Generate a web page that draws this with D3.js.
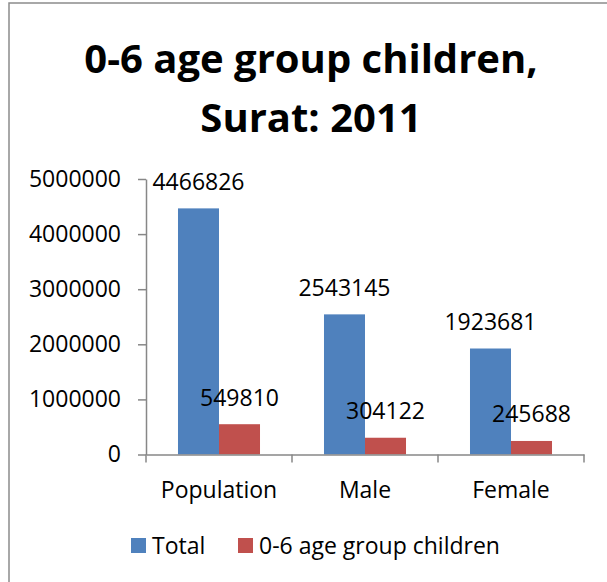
<!DOCTYPE html>
<html>
<head>
<meta charset="utf-8">
<script src="https://cdn.jsdelivr.net/npm/d3@7"></script>
<style>
  html, body { margin: 0; padding: 0; background: #fff; }
  svg { display: block; }
  text { font-family: "Open Sans", "Liberation Sans", sans-serif; fill: #000; }
</style>
</head>
<body>
<svg id="chart" width="607" height="582"></svg>
<script>
// data
var categories = ["Population", "Male", "Female"];
var seriesNames = ["Total", "0-6 age group children"];
var totalValues = [4466826, 2543145, 1923681];
var childValues = [549810, 304122, 245688];
var yTicks = [0, 1000000, 2000000, 3000000, 4000000, 5000000];
var titleLines = ["0-6 age group children,", "Surat: 2011"];

var colors = ["#4f81bd", "#c0504d"];
var axisColor = "#878787";

function makeChart() {
    var svg = d3.select("#chart");

    // chart frame (cropped on right and bottom in the original)
    svg.append("rect")
        .attr("x", 9).attr("y", 3)
        .attr("width", 700).attr("height", 700)
        .attr("fill", "none")
        .attr("stroke", "#8c8c8c").attr("stroke-width", 1.5);

    // title
    svg.append("text")
        .attr("text-anchor", "middle")
        .style("font-size", "40px").style("font-weight", "bold")
        .selectAll("tspan")
        .data(titleLines)
        .enter()
        .append("tspan")
        .attr("x", 311)
        .attr("y", (d, i) => 73 + i * 59)
        .text(d => d);

    var scY = d3.scaleLinear().domain([0, 5000000]).range([454.5, 179]);
    var scX = d3.scaleBand().domain(categories).range([146, 584]);
    var scS = d3.scaleBand().domain(seriesNames).range([0, scX.bandwidth()]).paddingOuter(0.78);

    var rows = categories.map((c, i) => ({
        cat: c,
        vals: [
            { s: seriesNames[0], v: totalValues[i], k: 0 },
            { s: seriesNames[1], v: childValues[i], k: 1 }
        ]
    }));

    // bars
    var groups = svg.selectAll("g.cat")
        .data(rows)
        .enter()
        .append("g")
        .attr("class", "cat")
        .attr("transform", d => "translate(" + scX(d.cat) + ",0)");

    groups.selectAll("rect")
        .data(d => d.vals)
        .enter()
        .append("rect")
        .attr("x", d => scS(d.s))
        .attr("width", scS.bandwidth())
        .attr("y", d => scY(d.v))
        .attr("height", d => scY(0) - scY(d.v))
        .attr("fill", d => colors[d.k]);

    // data labels
    groups.selectAll("text.lbl")
        .data(d => d.vals)
        .enter()
        .append("text")
        .attr("class", "lbl")
        .attr("text-anchor", "middle")
        .style("font-size", "23px")
        .attr("x", d => scS(d.s) + scS.bandwidth() / 2)
        .attr("y", d => scY(d.v) - 18.5)
        .text(d => d.v);

    // y axis
    var yAxis = svg.append("g")
        .attr("transform", "translate(146,0)")
        .call(d3.axisLeft(scY).tickValues(yTicks).tickFormat(d3.format("d"))
            .tickSize(8).tickSizeOuter(0).tickPadding(17));
    yAxis.selectAll("text").style("font-size", "23px").style("font-family", null);

    // x axis: labels at band centres, ticks at band edges
    var xAxis = svg.append("g")
        .attr("transform", "translate(0," + scY(0) + ")")
        .call(d3.axisBottom(scX).tickSize(0).tickSizeOuter(0).tickPadding(27));
    xAxis.selectAll("text").style("font-size", "23px").style("font-family", null);

    var edges = categories.map(c => scX(c)).concat([scX.range()[1]]);
    xAxis.selectAll("line.edge")
        .data(edges)
        .enter()
        .append("line")
        .attr("class", "edge")
        .attr("x1", d => d).attr("x2", d => d)
        .attr("y1", 0).attr("y2", 8);

    svg.selectAll(".domain, .tick line, line.edge")
        .attr("stroke", axisColor).attr("stroke-width", 1.5);

    // legend
    var legX = [131, 238];
    var leg = svg.selectAll("g.leg")
        .data(seriesNames)
        .enter()
        .append("g")
        .attr("class", "leg")
        .attr("transform", (d, i) => "translate(" + legX[i] + ",538)");
    leg.append("rect")
        .attr("width", 15).attr("height", 15)
        .attr("fill", (d, i) => colors[i]);
    leg.append("text")
        .attr("x", 21).attr("y", 16)
        .style("font-size", "23px")
        .text(d => d);
}

makeChart();
</script>
</body>
</html>
